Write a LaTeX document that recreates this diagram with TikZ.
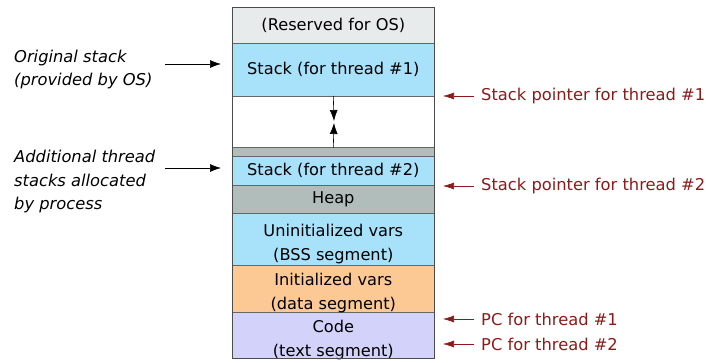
\documentclass[tikz,border=0pt]{standalone}
\usepackage{fontspec}
\setmainfont{DejaVu Sans}
\usetikzlibrary{arrows.meta}
\definecolor{osgray}{HTML}{E8EBEB}
\definecolor{stblue}{HTML}{A8E2FA}
\definecolor{heapgray}{HTML}{B0BDBB}
\definecolor{dataorange}{HTML}{FCC894}
\definecolor{codelav}{HTML}{D2D2FA}
\definecolor{ptrred}{HTML}{8B1A1A}
\tikzset{
  seg/.style={draw=gray!80!black, line width=0.6pt, minimum width=202pt, inner sep=0pt, anchor=north west, align=center, font=\fontsize{16.2}{24}\selectfont},
  segtxt/.style={align=center, inner sep=0pt, font=\fontsize{16.2}{24}\selectfont},
  lefttxt/.style={anchor=base west, align=left, font=\fontsize{16.3}{23.5}\selectfont\itshape, inner sep=0pt},
  ptrtxt/.style={anchor=west, text=ptrred, font=\fontsize{16.3}{19}\selectfont, inner sep=0pt},
  blkarrow/.style={-{Latex[length=11pt,width=8pt]}, line width=0.6pt},
  redarrow/.style={-{Latex[length=11pt,width=7pt]}, draw=ptrred, line width=0.6pt},
}
\begin{document}
\begin{tikzpicture}[x=1pt,y=-1pt]
\useasboundingbox (0,0) rectangle (706,363);
\node[seg, fill=osgray, minimum height=36pt] (os) at (232,7) {(Reserved for OS)};
\node[seg, fill=stblue, minimum height=53pt] (st1) at (232,43) {Stack (for thread \#1)};
\node[seg, fill=white, minimum height=51pt] (gap) at (232,96) {};
\node[seg, fill=heapgray, minimum height=9pt] (strip) at (232,147) {};
\node[seg, fill=stblue, minimum height=29pt] (st2) at (232,156) {Stack (for thread \#2)};
\node[seg, fill=heapgray, minimum height=28pt] (heap) at (232,185) {Heap};
\node[seg, fill=stblue, minimum height=52pt] (bss) at (232,213) {};
\node[seg, fill=dataorange, minimum height=47pt] (data) at (232,265) {};
\node[seg, fill=codelav, minimum height=46pt] (code) at (232,312) {};
\node[segtxt, yshift=-5pt] (bsstxt) at (bss.center) {Uninitialized vars\\(BSS segment)};
\node[segtxt, yshift=-4pt] (datatxt) at (data.center) {Initialized vars\\(data segment)};
\node[segtxt, yshift=-5pt] (codetxt) at (code.center) {Code\\(text segment)};
\draw[line width=0.6pt, draw=gray!60!black] (232,7) rectangle (434,358);
% growth arrows
\coordinate (mid1) at (334,121);
\coordinate (mid2) at (334,123);
\draw[blkarrow] (gap.north) -- (mid1);
\draw[blkarrow] (gap.south) -- (mid2);
% left labels
\node[lefttxt] (orig) at (14,86) {Original stack\\(provided by OS)};
\node[lefttxt] (addl) at (14,210) {Additional thread\\stacks allocated\\by process};
\coordinate (o1) at (165,64);
\coordinate (o2) at (221,64);
\coordinate (a1) at (165,168);
\coordinate (a2) at (221,168);
\draw[blkarrow] (o1) -- (o2);
\draw[blkarrow] (a1) -- (a2);
% right labels
\node[ptrtxt] (sp1) at (481,96) {Stack pointer for thread \#1};
\node[ptrtxt] (sp2) at (481,186) {Stack pointer for thread \#2};
\node[ptrtxt] (pc1) at (481,319) {PC for thread \#1};
\node[ptrtxt] (pc2) at (481,344) {PC for thread \#2};
\draw[redarrow] (sp1.west) ++(-7,0) -- ++(-31,0);
\draw[redarrow] (sp2.west) ++(-7,0) -- ++(-31,0);
\draw[redarrow] (pc1.west) ++(-7,0) -- ++(-31,0);
\draw[redarrow] (pc2.west) ++(-7,0) -- ++(-31,0);
\end{tikzpicture}
\end{document}
